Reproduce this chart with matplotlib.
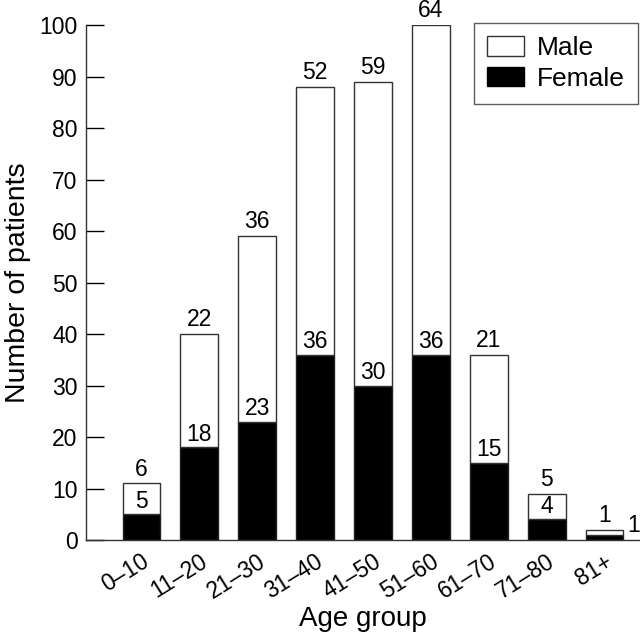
import matplotlib
matplotlib.use("Agg")
import matplotlib.pyplot as plt
from matplotlib.patches import Patch
import numpy as np

plt.rcParams['font.family'] = ['Liberation Sans', 'DejaVu Sans']

age_groups = ["0–10", "11–20", "21–30", "31–40", "41–50", "51–60", "61–70", "71–80", "81+"]
female = [5, 18, 23, 36, 30, 36, 15, 4, 1]
male = [6, 22, 36, 52, 59, 64, 21, 5, 1]

fig = plt.figure(figsize=(6.4, 6.38), dpi=100)
ax = fig.add_axes([0.134, 0.1536, 0.866, 0.807])

x = np.arange(len(age_groups))
w = 0.65
ax.bar(x, female, w, color='black', edgecolor='#222222', linewidth=1.0, label='Female', zorder=2)
ax.bar(x, male, w, bottom=female, color='white', edgecolor='#333333', linewidth=1.0, label='Male', zorder=2)

fs = 16.5
for i, (f, m) in enumerate(zip(female, male)):
    ax.annotate(str(m), (x[i], f + m), xytext=(0, 2), textcoords='offset points',
                ha='center', va='bottom', fontsize=fs, annotation_clip=False)
    if i == len(age_groups) - 1:
        ax.annotate(str(f), (x[i] + w / 2, 0), xytext=(3, 2), textcoords='offset points',
                    ha='left', va='bottom', fontsize=fs, annotation_clip=False)
    else:
        ax.annotate(str(f), (x[i], f), xytext=(0, 1), textcoords='offset points',
                    ha='center', va='bottom', fontsize=fs, annotation_clip=False)

ax.set_xlim(-0.96, 8.61)
ax.set_ylim(0, 100)
ax.set_yticks(range(0, 101, 10))
ax.tick_params(axis='y', direction='in', length=13, width=1.0, labelsize=fs, pad=6)
ax.set_xticks(x)
ax.set_xticklabels(age_groups, rotation=32, ha='right', va='top', rotation_mode='anchor', fontsize=fs)
ax.tick_params(axis='x', length=0, pad=7)

for s in ['top', 'right']:
    ax.spines[s].set_visible(False)
for s in ['left', 'bottom']:
    ax.spines[s].set_linewidth(1.0)
    ax.spines[s].set_color('#333333')

ax.set_xlabel('Age group', fontsize=20, labelpad=2)
ax.set_ylabel('Number of patients', fontsize=20.5, labelpad=6)

handles = [Patch(facecolor='white', edgecolor='#333333', label='Male'),
           Patch(facecolor='black', edgecolor='black', label='Female')]
leg = fig.legend(handles=handles, loc='upper right', bbox_to_anchor=(638 / 640, 1 - 23 / 638),
                 fontsize=19, frameon=True, fancybox=False, edgecolor='#333333', handlelength=1.4,
                 handleheight=0.75, borderpad=0.5, labelspacing=0.25, handletextpad=0.5,
                 borderaxespad=0)
leg.get_frame().set_linewidth(1.0)

fig.savefig('out.png', dpi=100)
